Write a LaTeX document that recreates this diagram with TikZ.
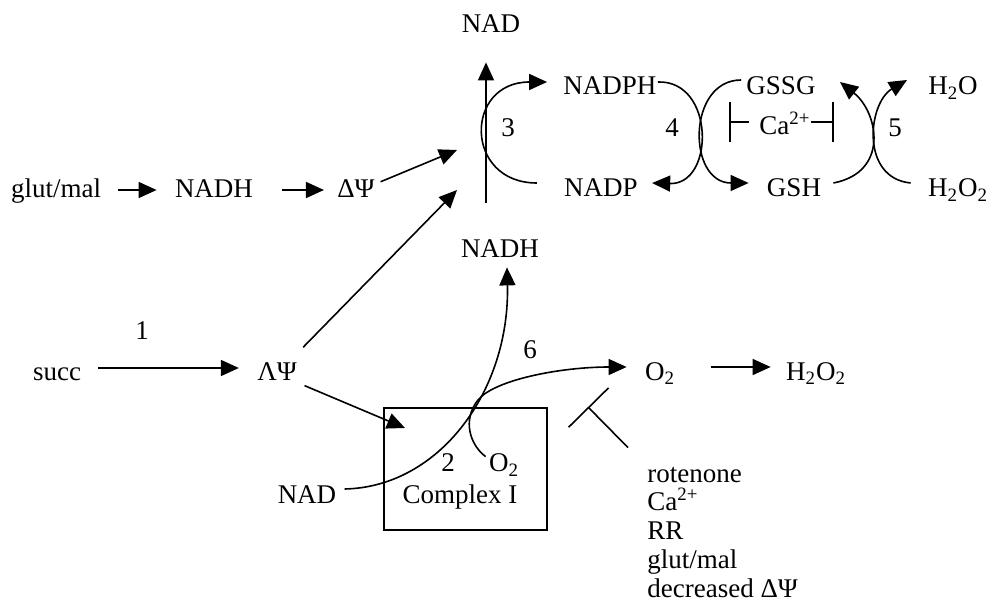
\documentclass[tikz,border=0pt]{standalone}
\usepackage{fontspec}
\setmainfont{Liberation Serif}
\usetikzlibrary{arrows.meta}
\definecolor{mitoInk}{HTML}{000000}
\tikzset{
  every picture/.style={font=\fontsize{13.5}{14.4}\selectfont, text=mitoInk},
  mito text/.style={inner sep=0pt, text height=9pt, text depth=3pt},
  mito box/.style={draw=mitoInk, line width=0.8pt, inner sep=0pt,
    minimum width=81.5pt, minimum height=61pt},
  mito line/.style={draw=mitoInk, line width=0.8pt},
  mito arrow/.style={mito line, -{Triangle[length=9pt,width=8pt]},
    shorten <=8.5pt, shorten >=9pt},
  mito block/.style={mito line, -{Bar[width=#1]}}
}

\begin{document}
\begin{tikzpicture}[x=0.5pt,y=-0.5pt]
  \useasboundingbox (0,0) rectangle (987,610);
  % upper part: NADPH / glutathione cycle
  \node[mito text] (nadTop) at (491,27) {NAD};
  \node[mito text] (nadph) at (610,89) {NADPH};
  \node[mito text] (nadp) at (601,191) {NADP};
  \node[mito text] (gssg) at (781,89) {GSSG};
  \node[mito text] (gsh) at (794,191) {GSH};
  \node[mito text] (ca) at (785,129) {Ca\textsuperscript{2+}};
  \node[mito text] (water) at (953,89) {H\textsubscript{2}O};
  \node[mito text] (peroxA) at (958,191) {H\textsubscript{2}O\textsubscript{2}};
  \node[mito text] (glutmal) at (56,192) {glut/mal};
  \node[mito text] (nadhA) at (214,192) {NADH};
  \node[mito text] (dpsiA) at (356,192) {ΔΨ};
  \node[mito text] (nadhB) at (500,252) {NADH};
  \node[mito text] (lab3) at (508,131) {3};
  \node[mito text] (lab4) at (672,131) {4};
  \node[mito text] (lab5) at (895,131) {5};
  % lower part: succinate and complex I
  \node[mito text] (lab1) at (142,334) {1};
  \node[mito text] (lab6) at (530,352) {6};
  \node[mito text] (succ) at (57,374) {succ};
  \node[mito text] (dpsiB) at (277,374) {ΛΨ};
  \node[mito text] (oxyB) at (660,374) {O\textsubscript{2}};
  \node[mito text] (peroxB) at (816,374) {H\textsubscript{2}O\textsubscript{2}};
  \node[mito box] (cplx) at (465.5,469) {};
  \node[mito text] (lab2) at (448,466) {2};
  \node[mito text] (oxyA) at (504,466) {O\textsubscript{2}};
  \node[mito text] (nadC) at (307,497) {NAD};
  \node[mito text] (cplxName) at (460,497) {Complex I};
  \foreach \t [count=\i] in {rotenone, {Ca\textsuperscript{2+}}, RR, {glut/mal}, {decreased ΔΨ}}
    \node[mito text, anchor=base west] (inh\i) at (647,{482+28.75*(\i-1)}) {\t};

  \coordinate (vbot) at (486,203);
  \coordinate (v1) at (457,150);
  \coordinate (v2) at (457,190);
  \coordinate (cplxIn) at (405,428);
  \coordinate (gssgIn) at (840,82);
  \coordinate (waterIn) at (907,80);
  \coordinate (tBar) at (588,407);

  % straight arrows
  \draw[mito arrow] ([yshift=1pt]glutmal.east) -- ([yshift=1pt]nadhA.west);
  \draw[mito arrow, shorten <=14.5pt, shorten >=6.5pt] ([yshift=1pt]nadhA.east) -- ([yshift=1pt]dpsiA.west);
  \draw[mito arrow, shorten <=3pt, shorten >=0pt] (dpsiA) -- (v1);
  \draw[mito arrow, shorten <=10pt, shorten >=0pt] (dpsiB) -- (v2);
  \draw[mito arrow, shorten <=4pt, shorten >=0pt] (dpsiB) -- (cplxIn);
  \draw[mito arrow, shorten >=11.5pt, shorten <=0pt] (vbot) -- (vbot |- nadTop.south);
  \draw[mito arrow] ([yshift=3pt]succ.east) -- ([yshift=3pt]dpsiB.west);
  \draw[mito arrow, shorten <=17.75pt, shorten >=7.5pt] ([yshift=3.5pt]oxyB.east) -- ([yshift=3.5pt]peroxB.west);

  % curved reactions
  \draw[mito arrow, shorten <=0pt, shorten >=0pt] ([shift={(-27,-8)}]nadp.west)
    .. controls (464,183) and (464,82) .. ([shift={(-16,-7)}]nadph.west);
  \draw[mito arrow, shorten <=0pt, shorten >=0pt] ([shift={(1,-7)}]nadph.east)
    .. controls (715,80) and (715,185) .. ([shift={(14,-8)}]nadp.east);
  \draw[mito arrow, shorten <=0pt, shorten >=0pt] ([shift={(-5,-9)}]gssg.west)
    .. controls (687,80) and (687,183) .. ([shift={(-18,-8)}]gsh.west);
  \draw[mito arrow, shorten <=0pt, shorten >=0pt] ([shift={(12,-8)}]gsh.east)
    .. controls (890,172) and (878,112) .. (gssgIn);
  \draw[mito arrow, shorten <=0pt, shorten >=0pt] ([shift={(-17,-8)}]peroxA.west)
    .. controls (860,178) and (868,103) .. (waterIn);
  \draw[mito arrow, shorten <=0pt, shorten >=0pt] ([shift={(8,-8)}]nadC.east)
    .. controls (440,487) and (510,390) .. ([shift={(7,3)}]nadhB.south);
  \draw[mito arrow, shorten <=0pt, shorten >=0pt] ([shift={(-3,3)}]oxyA.north west)
    .. controls (470,445) and (462,420) .. (478,400)
    .. controls (494,380) and (560,367) .. ([shift={(-18,-7)}]oxyB.west);

  % inhibitions
  \draw[mito block=20pt] ([shift={(-10,-7)}]ca.west) -- ([shift={(-30,-7)}]ca.west);
  \draw[mito block=20pt] ([shift={(0,-7)}]ca.east) -- ([shift={(23,-7)}]ca.east);
  \draw[mito block=28pt] ([shift={(-19,-16)}]inh1.north west) -- (tBar);
\end{tikzpicture}
\end{document}
